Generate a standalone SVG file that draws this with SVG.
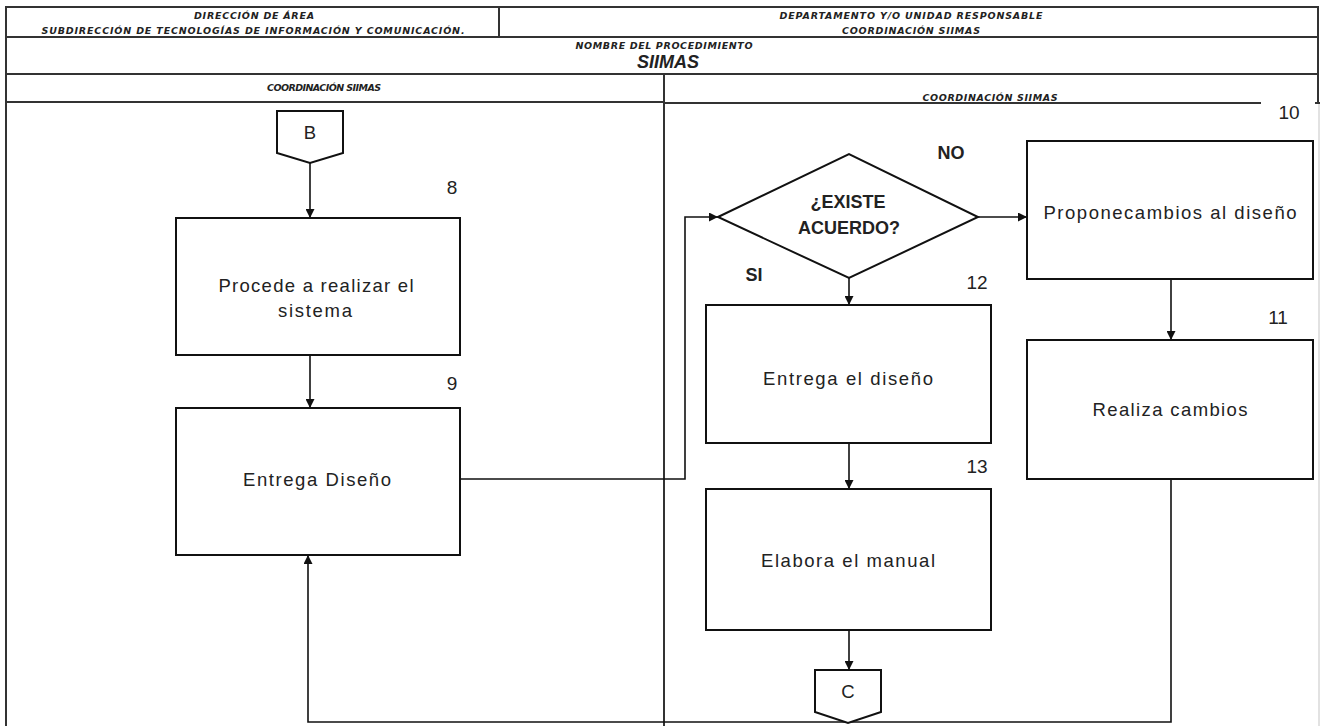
<svg xmlns="http://www.w3.org/2000/svg" width="1320" height="726" viewBox="0 0 1320 726">
  <defs>
    <marker id="arrow" viewBox="0 0 10 10" refX="10" refY="5" markerWidth="10" markerHeight="9" markerUnits="userSpaceOnUse" orient="auto">
      <path d="M0,0 L10,5 L0,10 z" fill="#111"/>
    </marker>
    <style>
      .frame { stroke: #333; stroke-width: 2; fill: none; }
      .edge { stroke: #d8d8d8; stroke-width: 1.5; fill: none; }
      .box { fill: #fff; stroke: #111; stroke-width: 2; }
      .conn { fill: none; stroke: #111; stroke-width: 1.6; }
      .hdr { font-family: "DejaVu Sans", sans-serif; font-weight: bold; font-style: italic; font-size: 9.5px; fill: #222; text-anchor: middle; dominant-baseline: central; }
      .title { font-family: "Liberation Sans", Arial, sans-serif; font-weight: bold; font-style: italic; font-size: 18px; fill: #222; text-anchor: middle; dominant-baseline: central; }
      .lbl { font-family: "Liberation Sans", Arial, sans-serif; font-size: 18.5px; fill: #222; text-anchor: middle; dominant-baseline: central; }
      .num { font-family: "Liberation Sans", Arial, sans-serif; font-size: 19px; fill: #222; text-anchor: middle; dominant-baseline: central; }
      .bold { font-family: "Liberation Sans", Arial, sans-serif; font-weight: bold; font-size: 18px; fill: #222; text-anchor: middle; dominant-baseline: central; }
    </style>
  </defs>

  <rect width="1320" height="726" fill="#fff"/>

  <!-- header frame and swimlanes -->
  <g id="frame">
    <line class="frame" x1="6" y1="7" x2="1318" y2="7"/>
    <line class="frame" x1="6" y1="6" x2="6" y2="726"/>
    <line class="frame" x1="1318" y1="6" x2="1318" y2="104"/>
    <line class="edge" x1="1319" y1="104" x2="1319" y2="726"/>
    <line class="frame" x1="6" y1="37" x2="1318" y2="37"/>
    <line class="frame" x1="499" y1="7" x2="499" y2="37"/>
    <line class="frame" x1="6" y1="74" x2="1318" y2="74"/>
    <line class="frame" x1="664" y1="74" x2="664" y2="726"/>
    <line class="frame" x1="6" y1="102" x2="664" y2="102"/>
    <line class="frame" x1="664" y1="103" x2="1261" y2="103"/>
    <line class="frame" x1="1315" y1="103" x2="1320" y2="103"/>

    <text class="hdr" x="254" y="15" textLength="120">DIRECCIÓN DE ÁREA</text>
    <text class="hdr" x="253" y="30" textLength="423">SUBDIRECCIÓN  DE TECNOLOGÍAS DE INFORMACIÓN Y COMUNICACIÓN.</text>
    <text class="hdr" x="911" y="15" textLength="263">DEPARTAMENTO  Y/O UNIDAD  RESPONSABLE</text>
    <text class="hdr" x="911" y="30" textLength="138">COORDINACIÓN  SIIMAS</text>
    <text class="hdr" x="664" y="45" textLength="177">NOMBRE DEL PROCEDIMIENTO</text>
    <text class="title" x="668" y="62">SIIMAS</text>
    <text class="hdr" x="324" y="87" textLength="114">COORDINACIÓN  SIIMAS</text>
    <text class="hdr" x="990" y="97" textLength="135">COORDINACIÓN  SIIMAS</text>
  </g>

  <!-- connectors -->
  <g id="connectors">
    <line class="conn" x1="310" y1="163" x2="310" y2="218" marker-end="url(#arrow)"/>
    <line class="conn" x1="310" y1="355" x2="310" y2="408" marker-end="url(#arrow)"/>
    <polyline class="conn" points="460,479 685,479 685,217 718,217" marker-end="url(#arrow)"/>
    <line class="conn" x1="978" y1="217" x2="1027" y2="217" marker-end="url(#arrow)"/>
    <line class="conn" x1="1171" y1="279" x2="1171" y2="340" marker-end="url(#arrow)"/>
    <polyline class="conn" points="1171,479 1171,722 308,722 308,555" marker-end="url(#arrow)"/>
    <line class="conn" x1="849" y1="278" x2="849" y2="305" marker-end="url(#arrow)"/>
    <line class="conn" x1="849" y1="443" x2="849" y2="489" marker-end="url(#arrow)"/>
    <line class="conn" x1="849" y1="630" x2="849" y2="670" marker-end="url(#arrow)"/>
  </g>

  <!-- off-page connector B -->
  <g id="connector-b">
    <polygon class="box" points="277,111 343,111 343,153 310,163 277,153"/>
    <text class="lbl" x="310" y="132">B</text>
  </g>

  <!-- step 8 -->
  <g id="step-8">
    <rect class="box" x="176" y="218" width="284" height="137"/>
    <text class="lbl" x="316" y="285" textLength="195">Procede a realizar el</text>
    <text class="lbl" x="315" y="310" textLength="74">sistema</text>
    <text class="num" x="452" y="187">8</text>
  </g>

  <!-- step 9 -->
  <g id="step-9">
    <rect class="box" x="176" y="408" width="284" height="147"/>
    <text class="lbl" x="317" y="479" textLength="148">Entrega Diseño</text>
    <text class="num" x="452" y="383">9</text>
  </g>

  <!-- decision -->
  <g id="decision">
    <polygon class="box" points="718,217 849,154 978,217 849,278"/>
    <text class="bold" x="848" y="202">¿EXISTE</text>
    <text class="bold" x="849" y="228">ACUERDO?</text>
    <text class="bold" x="951" y="153">NO</text>
    <text class="bold" x="754" y="275">SI</text>
  </g>

  <!-- step 10 -->
  <g id="step-10">
    <rect class="box" x="1027" y="141" width="286" height="138"/>
    <text class="lbl" x="1170" y="212" textLength="253">Proponecambios al diseño</text>
    <text class="num" x="1289" y="112">10</text>
  </g>

  <!-- step 11 -->
  <g id="step-11">
    <rect class="box" x="1027" y="340" width="286" height="139"/>
    <text class="lbl" x="1170" y="409" textLength="155">Realiza cambios</text>
    <text class="num" x="1278" y="317">11</text>
  </g>

  <!-- step 12 -->
  <g id="step-12">
    <rect class="box" x="706" y="305" width="285" height="138"/>
    <text class="lbl" x="848" y="378" textLength="170">Entrega el diseño</text>
    <text class="num" x="977" y="282">12</text>
  </g>

  <!-- step 13 -->
  <g id="step-13">
    <rect class="box" x="706" y="489" width="285" height="141"/>
    <text class="lbl" x="848" y="560" textLength="174">Elabora el manual</text>
    <text class="num" x="977" y="466">13</text>
  </g>

  <!-- off-page connector C -->
  <g id="connector-c">
    <polygon class="box" points="815,670 881,670 881,712 848,723 815,712"/>
    <text class="lbl" x="848" y="691">C</text>
  </g>
</svg>
